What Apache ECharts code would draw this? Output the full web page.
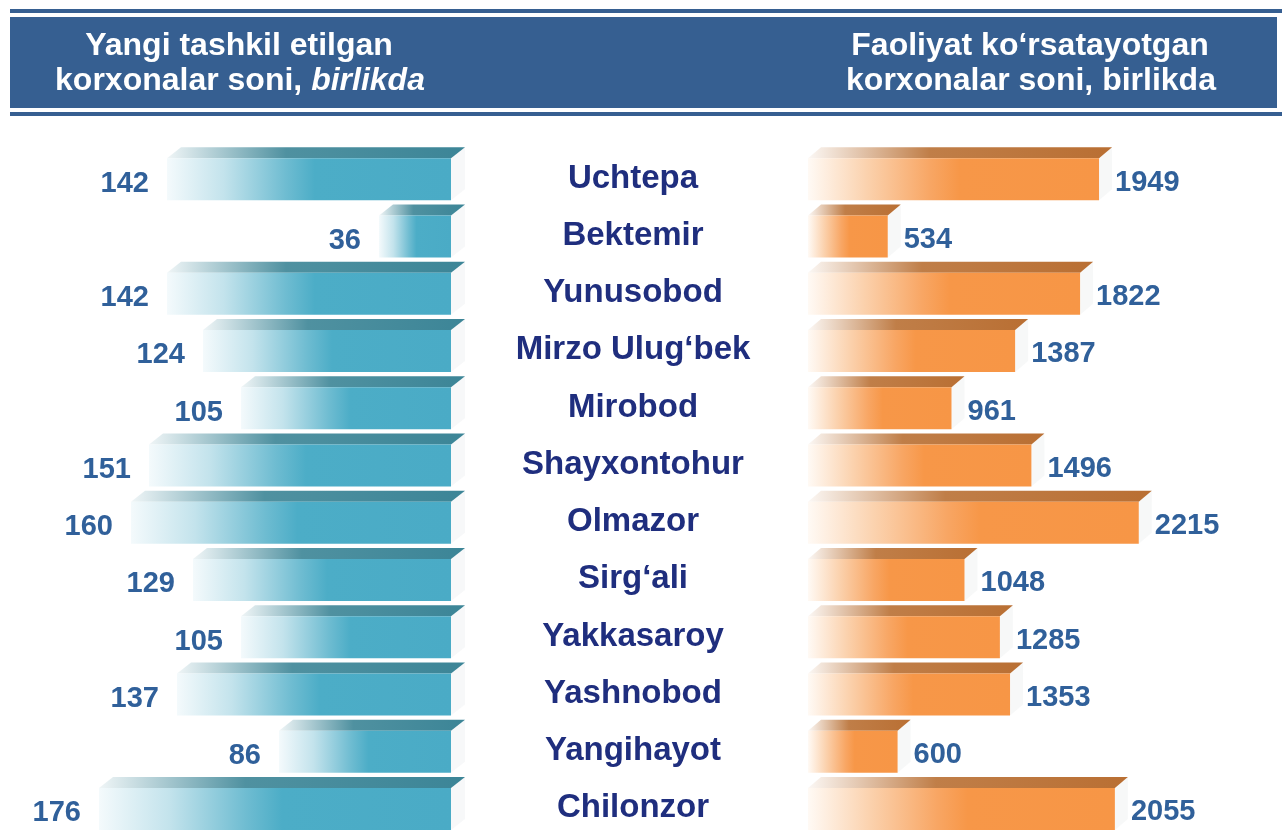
<!DOCTYPE html>
<html>
<head>
<meta charset="utf-8">
<script src="https://cdn.jsdelivr.net/npm/echarts@6/dist/echarts.min.js"></script>
<style>
    html, body { margin: 0; padding: 0; background: #ffffff; }
    #chart { width: 1282px; height: 832px; }
</style>
</head>
<body>
<div id="chart"></div>
<script>
const districts = [
    'Uchtepa', 'Bektemir', 'Yunusobod', 'Mirzo Ulug‘bek', 'Mirobod', 'Shayxontohur',
    'Olmazor', 'Sirg‘ali', 'Yakkasaroy', 'Yashnobod', 'Yangihayot', 'Chilonzor'
];
const newCompanies = [142, 36, 142, 124, 105, 151, 160, 129, 105, 137, 86, 176];
const activeCompanies = [1949, 534, 1822, 1387, 961, 1496, 2215, 1048, 1285, 1353, 600, 2055];

const leftTitle = ['Yangi tashkil etilgan', 'korxonalar soni, ', 'birlikda'];
const rightTitle = ['Faoliyat ko‘rsatayotgan', 'korxonalar soni, birlikda'];

const FONT = '"Liberation Sans", Arial, sans-serif';
const HEADER_BLUE = '#365f91';
const VALUE_COLOR = '#30609a';

function barGeometry(api, value) {
    const idx = api.value(1);
    const base = api.coord([0, idx]);
    const end = api.coord([value, idx]);
    return { x0: base[0], x1: end[0], c: base[1] };
}

function renderLeft(params, api) {
    const value = api.value(0);
    const g = barGeometry(api, value);
    const xl = g.x1;
    const xr = g.x0;
    const c = g.c;
    const frontTop = c - 15.5;
    const frontBottom = c + 26.5;
    const backTop = c - 26.5;
    const depth = 14;

    return {
        type: 'group',
        children: [
            {
                type: 'polygon',
                shape: { points: [[xr, frontTop], [xr + depth, backTop], [xr + depth, frontBottom - 11], [xr, frontBottom]] },
                style: { fill: 'rgba(232,236,238,0.35)' },
            },
            {
                type: 'polygon',
                shape: { points: [[xl, frontTop], [xr, frontTop], [xr + depth, backTop], [xl + depth, backTop]] },
                style: {
                    fill: new echarts.graphic.LinearGradient(0, 0, 1, 0, [
                        { offset: 0, color: 'rgba(60,133,150,0.08)' },
                        { offset: 0.4, color: 'rgba(60,133,150,0.9)' },
                        { offset: 1, color: '#3c8597' },
                    ]),
                },
            },
            {
                type: 'rect',
                shape: { x: xl, y: frontTop, width: xr - xl, height: frontBottom - frontTop },
                style: {
                    fill: new echarts.graphic.LinearGradient(0, 0, 1, 0, [
                        { offset: 0, color: '#f4fafc' },
                        { offset: 0.2, color: '#c3e3ec' },
                        { offset: 0.42, color: '#6ebcd1' },
                        { offset: 0.52, color: '#4cadc7' },
                        { offset: 1, color: '#4aabc6' },
                    ]),
                },
            },
            {
                type: 'text',
                style: {
                    text: String(value),
                    x: xl - 18,
                    y: c + 10,
                    align: 'right',
                    verticalAlign: 'middle',
                    font: 'bold 29px ' + FONT,
                    fill: VALUE_COLOR,
                },
            },
        ],
    };
}

function renderRight(params, api) {
    const value = api.value(0);
    const g = barGeometry(api, value);
    const xl = g.x0;
    const xr = g.x1;
    const c = g.c;
    const frontTop = c - 15.5;
    const frontBottom = c + 26.5;
    const backTop = c - 26.5;
    const depth = 13;

    return {
        type: 'group',
        children: [
            {
                type: 'polygon',
                shape: { points: [[xr, frontTop], [xr + depth, backTop], [xr + depth, frontBottom - 11], [xr, frontBottom]] },
                style: { fill: 'rgba(232,234,236,0.35)' },
            },
            {
                type: 'polygon',
                shape: { points: [[xl, frontTop], [xr, frontTop], [xr + depth, backTop], [xl + depth, backTop]] },
                style: {
                    fill: new echarts.graphic.LinearGradient(0, 0, 1, 0, [
                        { offset: 0, color: 'rgba(185,112,52,0.05)' },
                        { offset: 0.4, color: 'rgba(185,112,52,0.9)' },
                        { offset: 1, color: '#b96f33' },
                    ]),
                },
            },
            {
                type: 'rect',
                shape: { x: xl, y: frontTop, width: xr - xl, height: frontBottom - frontTop },
                style: {
                    fill: new echarts.graphic.LinearGradient(0, 0, 1, 0, [
                        { offset: 0, color: '#fffaf5' },
                        { offset: 0.2, color: '#fbd2ae' },
                        { offset: 0.42, color: '#f8a664' },
                        { offset: 0.52, color: '#f79748' },
                        { offset: 1, color: '#f79646' },
                    ]),
                },
            },
            {
                type: 'text',
                style: {
                    text: String(value),
                    x: xr + 16,
                    y: c + 9,
                    align: 'left',
                    verticalAlign: 'middle',
                    font: 'bold 29px ' + FONT,
                    fill: VALUE_COLOR,
                },
            },
        ],
    };
}

const chart = echarts.init(document.getElementById('chart'), null, { renderer: 'canvas' });

const headerText = (x, y, text, extra) => ({
    type: 'text',
    x: x,
    y: y,
    style: Object.assign({
        text: text,
        align: 'center',
        verticalAlign: 'middle',
        font: 'bold 32px ' + FONT,
        fill: '#ffffff',
    }, extra || {}),
});

chart.setOption({
    animation: false,
    backgroundColor: '#ffffff',
    graphic: [
        { type: 'rect', shape: { x: 10, y: 9, width: 1272, height: 4 }, style: { fill: HEADER_BLUE } },
        { type: 'rect', shape: { x: 10, y: 17, width: 1267, height: 91 }, style: { fill: HEADER_BLUE } },
        { type: 'rect', shape: { x: 10, y: 112, width: 1272, height: 4 }, style: { fill: HEADER_BLUE } },
        headerText(239, 46, leftTitle[0]),
        headerText(240, 81, '{a|' + leftTitle[1] + '}{b|' + leftTitle[2] + '}', {
            rich: {
                a: { font: 'bold 32px ' + FONT, fill: '#ffffff' },
                b: { font: 'italic bold 32px ' + FONT, fill: '#ffffff' },
            },
        }),
        headerText(1030, 46, rightTitle[0]),
        headerText(1031, 81, rightTitle[1]),
    ],
    grid: [
        { left: 51, right: 831, top: 145, bottom: -4 },
        { left: 808, right: 26, top: 145, bottom: -4 },
    ],
    xAxis: [
        { gridIndex: 0, type: 'value', min: 0, max: 200, inverse: true, show: false },
        { gridIndex: 1, type: 'value', min: 0, max: 3000, show: false },
    ],
    yAxis: [
        {
            gridIndex: 0,
            type: 'category',
            data: districts,
            inverse: true,
            position: 'right',
            axisLine: { show: false },
            axisTick: { show: false },
            splitLine: { show: false },
            axisLabel: {
                interval: 0,
                margin: 182,
                align: 'center',
                verticalAlign: 'middle',
                formatter: (name) => '{n|' + name + '}',
                rich: {
                    n: {
                        padding: [10, 0, 0, 0],
                        fontFamily: FONT,
                        fontWeight: 'bold',
                        fontSize: 33,
                        color: '#1f2e7e',
                    },
                },
            },
        },
        {
            gridIndex: 1,
            type: 'category',
            data: districts,
            inverse: true,
            show: false,
        },
    ],
    series: [
        {
            type: 'custom',
            name: 'Yangi tashkil etilgan',
            xAxisIndex: 0,
            yAxisIndex: 0,
            clip: false,
            renderItem: renderLeft,
            encode: { x: 0, y: 1 },
            data: newCompanies.map((v, i) => [v, districts[i]]),
        },
        {
            type: 'custom',
            name: 'Faoliyat ko‘rsatayotgan',
            xAxisIndex: 1,
            yAxisIndex: 1,
            clip: false,
            renderItem: renderRight,
            encode: { x: 0, y: 1 },
            data: activeCompanies.map((v, i) => [v, districts[i]]),
        },
    ],
});
</script>
</body>
</html>
